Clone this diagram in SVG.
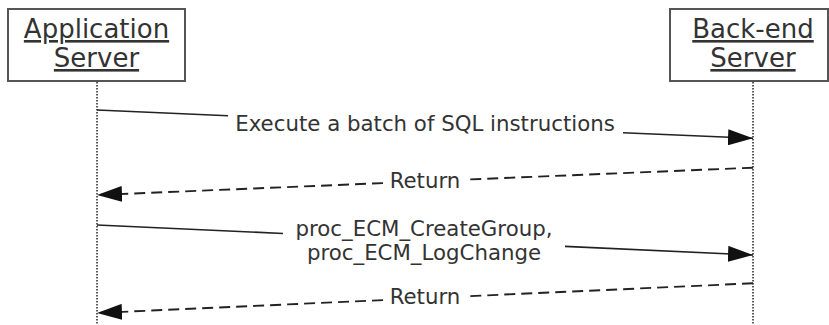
<svg xmlns="http://www.w3.org/2000/svg" width="829" height="325" viewBox="0 0 829 325">
<style>
.box{fill:#fff;stroke:#555;stroke-width:2}
.title{font-family:"DejaVu Sans",Verdana,sans-serif;font-size:26px;fill:#333;text-anchor:middle;text-decoration:underline}
.lbl{font-family:"DejaVu Sans",Verdana,sans-serif;font-size:21.3px;fill:#333;text-anchor:middle}
.life{stroke:#333;stroke-width:1.6;stroke-dasharray:1.5 1.5;fill:none}
.msg{stroke:#222;stroke-width:1.6;fill:none}
.ret{stroke:#222;stroke-width:1.9;fill:none;stroke-dasharray:11 6}
</style>
<defs>
<marker id="ah" viewBox="0 0 25 16" refX="25" refY="8" markerWidth="25" markerHeight="16" markerUnits="userSpaceOnUse" orient="auto">
<path d="M0,0 L25,8 L0,16 Z" fill="#111"/>
</marker>
</defs>
<g id="app">
<rect class="box" x="8" y="9" width="177" height="72"/>
<text class="title" x="96.5" y="38">Application</text>
<text class="title" x="96.5" y="67">Server</text>
<line class="life" x1="97" y1="82" x2="97" y2="325"/>
</g>
<g id="backend">
<rect class="box" x="670" y="9" width="158" height="72"/>
<text class="title" x="753" y="38">Back-end</text>
<text class="title" x="753" y="67">Server</text>
<line class="life" x1="753" y1="82" x2="753" y2="325"/>
</g>
<g id="connectors">
<path class="msg" d="M97,110 L228,115.7 M623,132.7 L753,138.3" marker-end="url(#ah)"/>
<text class="lbl" x="425" y="131">Execute a batch of SQL instructions</text>
<path class="ret" d="M753,167.7 L466,179.6 M383,183.1 L97,195" marker-end="url(#ah)"/>
<text class="lbl" x="425" y="188">Return</text>
<path class="msg" d="M97,225 L283,233.5 M565,246.4 L753,255" marker-end="url(#ah)"/>
<text class="lbl" x="424" y="236">proc_ECM_CreateGroup,</text>
<text class="lbl" x="424" y="260">proc_ECM_LogChange</text>
<path class="ret" d="M753,283.3 L466,296.3 M383,300.1 L97,313" marker-end="url(#ah)"/>
<text class="lbl" x="425" y="304">Return</text>
</g>
</svg>
